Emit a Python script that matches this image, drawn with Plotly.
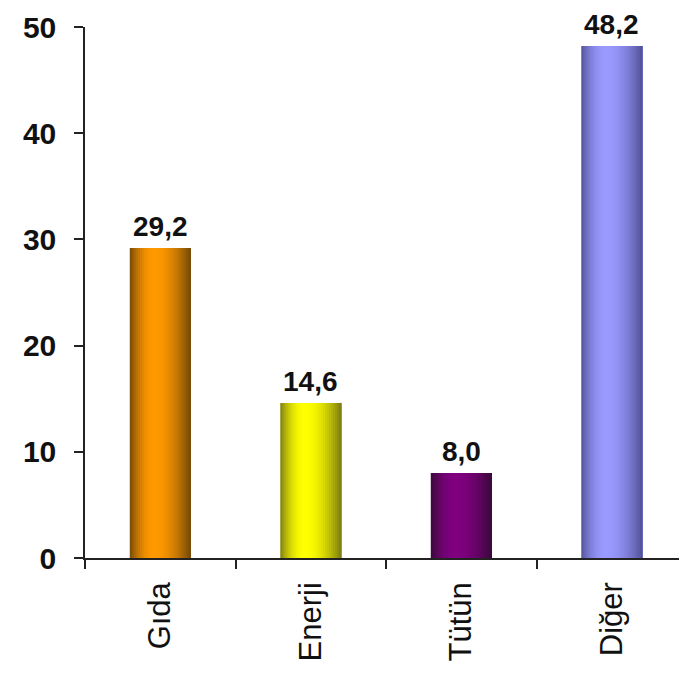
import math
import plotly.graph_objects as go

categories = ["Gıda", "Enerji", "Tütün", "Diğer"]
values = [29.2, 14.6, 8.0, 48.2]
y_ticks = [0, 10, 20, 30, 40, 50]

bright_colors = [(255, 153, 0), (255, 255, 0), (128, 0, 128), (153, 153, 255)]
dark_colors = [(110, 70, 10), (120, 120, 20), (55, 10, 55), (80, 80, 150)]

BAR_W = 0.405
N = 30

def shade(t):
    if t < 0.4:
        return math.sin(math.pi / 2 * t / 0.4) ** 0.8
    return math.cos(math.pi / 2 * (t - 0.4) / 0.6) ** 0.9

fig = go.Figure()
sw = BAR_W / N
for k in range(N):
    t = (k + 0.5) / N
    f = shade(t)
    cols = []
    for b, d in zip(bright_colors, dark_colors):
        c = tuple(int(round(d[i] + (b[i] - d[i]) * f)) for i in range(3))
        cols.append("rgb(%d,%d,%d)" % c)
    fig.add_trace(go.Bar(
        x=categories, y=values,
        width=BAR_W - k * sw, offset=-BAR_W / 2 + k * sw,
        marker=dict(color=cols, line=dict(width=0)),
        hoverinfo="skip", showlegend=False,
    ))

labels = [f"{v:.1f}".replace(".", ",") for v in values]
annotations = [
    dict(x=c, y=v, text=f"<b>{lab}</b>", showarrow=False,
         xanchor="center", yanchor="bottom", yshift=4,
         font=dict(family="Liberation Sans, Arial", size=28, color="#111111"))
    for c, v, lab in zip(categories, values, labels)
]

fig.update_layout(
    barmode="overlay",
    width=679, height=665,
    margin=dict(l=77, r=0, t=19, b=115),
    plot_bgcolor="white", paper_bgcolor="white",
    showlegend=False,
    annotations=annotations,
)
fig.update_yaxes(
    range=[0, 50], tickvals=y_ticks, ticktext=[f"<b>{v}</b>" for v in y_ticks],
    showgrid=False, zeroline=False,
    showline=True, linecolor="#222222", linewidth=1.5,
    ticks="outside", ticklen=9, tickcolor="#222222", tickwidth=1.5,
    tickfont=dict(family="Liberation Sans, Arial", size=30, color="#111111"),
    ticklabelstandoff=12,
)
fig.update_xaxes(
    type="category", range=[-0.5, 3.5],
    showgrid=False, zeroline=False,
    showline=True, linecolor="#222222", linewidth=1.5,
    ticks="outside", ticklen=9, tickcolor="#222222", tickwidth=1.5,
    tickson="boundaries", tickangle=-90, ticklabelstandoff=10,
    tickfont=dict(family="Liberation Sans, Arial", size=31, color="#111111"),
)
fig.write_html("out.html")
